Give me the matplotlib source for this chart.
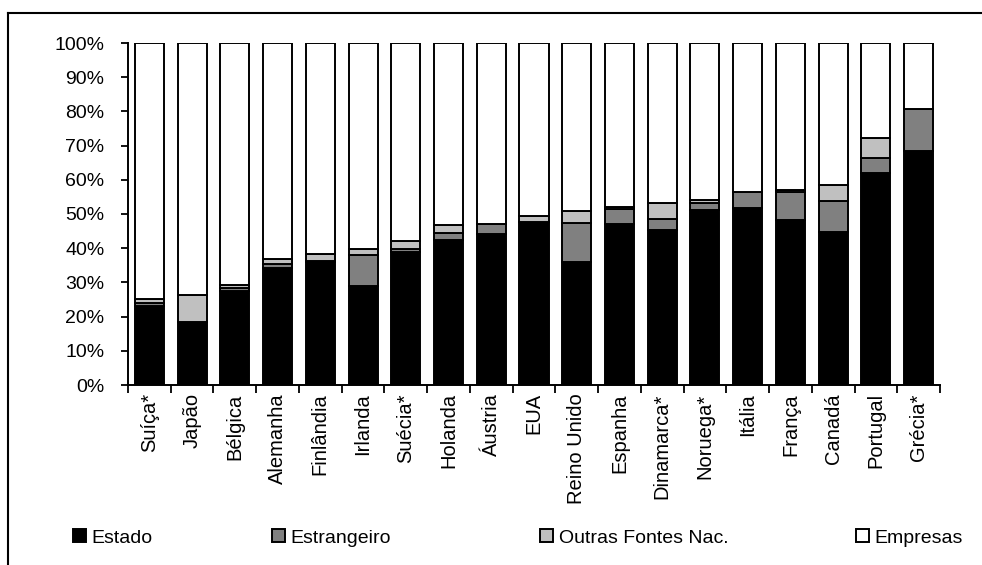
import matplotlib
matplotlib.use("Agg")
import matplotlib.pyplot as plt
from matplotlib.lines import Line2D
from matplotlib.patches import Patch
import numpy as np

plt.rcParams['font.family'] = ['Liberation Sans', 'DejaVu Sans']

countries = ["Suíça*", "Japão", "Bélgica", "Alemanha", "Finlândia", "Irlanda",
             "Suécia*", "Holanda", "Áustria", "EUA", "Reino Unido", "Espanha",
             "Dinamarca*", "Noruega*", "Itália", "França", "Canadá", "Portugal",
             "Grécia*"]
estado = [23.0, 18.3, 27.6, 34.2, 36.0, 28.9, 38.9, 42.4, 44.1, 47.6, 36.0,
          47.1, 45.3, 51.2, 51.8, 48.2, 44.8, 62.0, 68.5]
estrangeiro = [0.9, 0.0, 0.9, 1.3, 0.2, 9.1, 0.8, 2.1, 2.9, 0.0, 11.5,
               4.3, 3.2, 1.9, 4.5, 8.1, 9.1, 4.4, 12.2]
outras = [1.3, 7.9, 0.8, 1.3, 2.1, 1.7, 2.5, 2.4, 0.0, 1.8, 3.5,
          0.7, 4.8, 1.1, 0.0, 0.6, 4.7, 5.9, 0.0]
empresas = [100 - a - b - c for a, b, c in zip(estado, estrangeiro, outras)]

series_names = ["Estado", "Estrangeiro", "Outras Fontes Nac.", "Empresas"]
series_colors = ["#000000", "#808080", "#c0c0c0", "#ffffff"]
yticks = list(range(0, 101, 10))

W, H = 982, 565
fig = plt.figure(figsize=(W / 100, H / 100), dpi=100)
ax = fig.add_axes([128 / W, 1 - 385 / H, (940 - 128) / W, (385 - 43) / H])

x = np.arange(len(countries))
bottom = np.zeros(len(countries))
for vals, col in zip([estado, estrangeiro, outras, empresas], series_colors):
    ax.bar(x, vals, width=0.68, bottom=bottom, color=col, edgecolor="black",
           linewidth=1.4, zorder=2)
    bottom += np.array(vals)

ax.set_xlim(-0.5, len(countries) - 0.5)
ax.set_ylim(0, 100)
ax.set_yticks(yticks)
ax.set_yticklabels([f"{v}%" for v in yticks], fontsize=14)
ax.set_xticks(x)
ax.set_xticklabels(countries, rotation=90, fontsize=14.5)
ax.set_xticks(np.arange(-0.5, len(countries)), minor=True)
ax.tick_params(axis="x", which="major", length=0, pad=6)
ax.tick_params(axis="x", which="minor", length=5.5, width=1.3, direction="out")
ax.tick_params(axis="y", length=5, width=1.3, direction="out", pad=12)
for s in ["top", "right"]:
    ax.spines[s].set_visible(False)
for s in ["left", "bottom"]:
    ax.spines[s].set_linewidth(1.4)

# legend entries placed individually like the original
legend_x = [73, 272, 540, 856]
for name, col, lx in zip(series_names, series_colors, legend_x):
    h = Patch(facecolor=col, edgecolor="black", linewidth=1.4)
    fig.legend([h], [name], loc="center left",
               bbox_to_anchor=(lx / W, 1 - 538 / H), frameon=False,
               fontsize=14, handlelength=0.66, handleheight=0.66,
               handletextpad=0.3, borderpad=0, borderaxespad=0)

# outer frame (top and left edges)
fig.add_artist(Line2D([8 / W, 1.0], [1 - 13 / H, 1 - 13 / H], color="black",
                      linewidth=1.5, transform=fig.transFigure))
fig.add_artist(Line2D([8 / W, 8 / W], [1 - 13 / H, 0.0], color="black",
                      linewidth=1.5, transform=fig.transFigure))

fig.savefig("out.png", dpi=100)
